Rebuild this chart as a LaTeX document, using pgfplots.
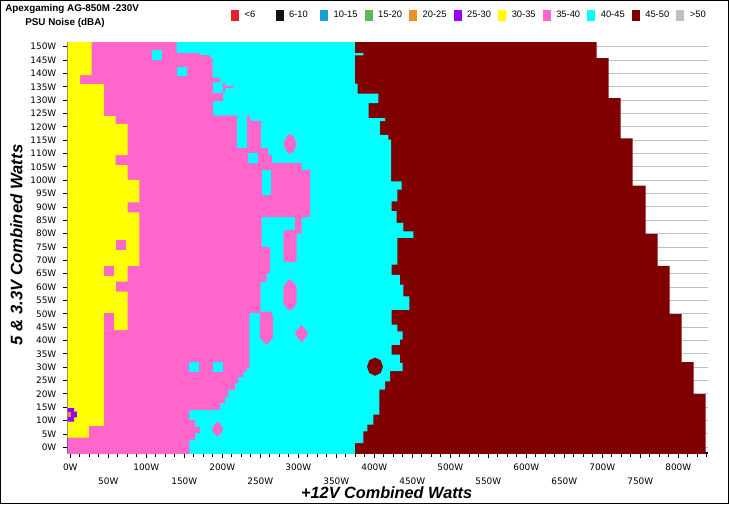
\documentclass[border=0pt]{standalone}
\usepackage{pgfplots}
\pgfplotsset{compat=1.18}
\usepackage{fontspec}
\setmainfont{Liberation Sans}
\newfontfamily\dejavu{DejaVu Sans}
\definecolor{cRed}{RGB}{230,30,40}
\definecolor{cBlack}{RGB}{20,20,20}
\definecolor{cBlue}{RGB}{25,160,215}
\definecolor{cGreen}{RGB}{90,185,90}
\definecolor{cOrange}{RGB}{235,145,40}
\definecolor{cPurple}{RGB}{150,0,255}
\definecolor{cYellow}{RGB}{255,255,0}
\definecolor{cPink}{RGB}{255,102,204}
\definecolor{cCyan}{RGB}{0,255,255}
\definecolor{cMaroon}{RGB}{128,0,0}
\definecolor{cGray}{RGB}{192,192,192}
\pgfplotsset{
  layers/gridbelow/.define layer set={axis background,axis grid,pre main,main,axis ticks,axis lines,axis tick labels,axis descriptions,axis foreground}{},
}
\newcommand{\legtxt}[1]{\hspace{4.5pt}\makebox[23.25pt][l]{#1}}
\begin{document}
\begin{tikzpicture}
\draw[line width=0.75pt] (0.375pt,0.375pt) rectangle (546.375pt,377.625pt);
\begin{axis}[
  set layers=gridbelow,
  at={(50.775pt,38.0pt)}, anchor=south west,
  scale only axis, width=480pt, height=308.475pt,
  xmin=-3.42, xmax=838.7, ymin=-2.25, ymax=151.76,
  axis x line*=bottom, axis y line*=left,
  axis line style={line width=1.3pt, black},
  xtick={0,100,...,800},
  extra x ticks={50,150,...,750},
  extra x tick style={xticklabel style={yshift=-10pt}},
  extra x tick label={\pgfmathprintnumber{\tick}W},
  minor xtick={0,12.5,...,837.5},
  ytick={0,5,...,150},
  ymajorgrids, major grid style={cGray, line width=0.75pt},
  tick align=outside, major tick length=3.5pt, minor tick length=2.5pt,
  tick style={black, line width=0.7pt},
  xticklabel={\pgfmathprintnumber{\tick}W},
  yticklabel={\pgfmathprintnumber{\tick}W},
  /pgf/number format/assume math mode=true,
  ticklabel style={font=\dejavu\fontsize{6.7}{7}\selectfont},
  xticklabel style={yshift=-1.2pt},
  yticklabel style={xshift=-1.5pt},
  xlabel={+12V Combined Watts},
  ylabel={5 \& 3.3V Combined Watts},
  xlabel style={font=\bfseries\itshape\fontsize{12.2}{13}\selectfont, at={(axis description cs:0.4984,-0.0955)}, anchor=center},
  ylabel style={font=\bfseries\itshape\fontsize{12.5}{14}\selectfont, at={(axis description cs:-0.080,0.5064)}, anchor=center, rotate=0},
  legend columns=11,
  legend image code/.code={\fill[#1] (0pt,-3.75pt) rectangle (5.25pt,3.75pt);},
  legend style={at={(axis description cs:0.2552,1.0657)}, anchor=west, draw=none, fill=none,
    inner sep=0pt, outer sep=0pt, cells={anchor=west}, nodes={inner sep=0pt},
    font=\fontsize{7}{8}\selectfont},
]
\addlegendimage{cRed}\addlegendentry{\legtxt{<6}}
\addlegendimage{cBlack}\addlegendentry{\legtxt{6-10}}
\addlegendimage{cBlue}\addlegendentry{\legtxt{10-15}}
\addlegendimage{cGreen}\addlegendentry{\legtxt{15-20}}
\addlegendimage{cOrange}\addlegendentry{\legtxt{20-25}}
\addlegendimage{cPurple}\addlegendentry{\legtxt{25-30}}
\addlegendimage{cYellow}\addlegendentry{\legtxt{30-35}}
\addlegendimage{cPink}\addlegendentry{\legtxt{35-40}}
\addlegendimage{cCyan}\addlegendentry{\legtxt{40-45}}
\addlegendimage{cMaroon}\addlegendentry{\legtxt{45-50}}
\addlegendimage{cGray}\addlegendentry{\legtxt{>50}}
% 45-50 region with stepped right edge
\addplot[fill=cMaroon, draw=none, forget plot] coordinates {
(-10,-5) (836.1,-5) (836.1,19.9) (820.3,19.9) (820.3,31.9) (804.5,31.9) (804.5,49.9) (788.7,49.9)
(788.7,67.9) (772.9,67.9) (772.9,79.9) (757.1,79.9) (757.1,98) (740,98) (740,115.7) (724.2,115.7)
(724.2,130.8) (708.4,130.8) (708.4,145.7) (692.6,145.7) (692.6,155) (-10,155)};
% 40-45 region
\addplot[fill=cCyan, draw=none, forget plot] coordinates {
(-10,-5) (374.6,-5) (374.6,1.6) (385.5,1.6) (385.5,6.0) (390.8,6.0) (390.8,8.5) (398.7,8.5)
(398.7,12.2) (406.6,12.2) (406.6,21.6) (414.1,21.6) (414.1,24.7) (420.7,24.7) (420.7,28.5)
(437.4,28.5) (437.4,31.6) (433.8,31.6) (433.8,34.7) (422.9,34.7) (422.9,38.4) (433.8,38.4)
(433.8,40.3) (437.4,40.3) (437.4,43.4) (430.3,43.4) (430.3,45.9) (422.9,45.9) (422.9,51.5)
(446.1,51.5) (446.1,56.5) (438.2,56.5) (438.2,60.9) (433.8,60.9) (433.8,64.6) (422.9,64.6)
(422.9,68.4) (430.3,68.4) (430.3,78.4) (451.3,78.4) (451.3,80.9) (438.2,80.9) (438.2,84.0)
(429.5,84.0) (429.5,88.4) (422.9,88.4) (422.9,92.1) (430.3,92.1) (430.3,96.5) (436.1,96.5)
(436.1,99.6) (422.0,99.6) (422.0,115.2) (418.4,115.2) (418.4,117.0) (407.5,117.0) (407.5,122.1)
(414.1,122.1) (414.1,123.3) (392.6,123.3) (392.6,128.9) (405.3,128.9) (405.3,132.4) (378.2,132.4)
(378.2,136.2) (374.6,136.2) (374.6,146.8) (385.5,146.8) (385.5,147.6) (374.6,147.6) (374.6,155) (-10,155)};
% 45-50 island
\addplot[fill=cMaroon, draw=none, forget plot] coordinates {
(390.4,30.2) (393.5,27.8) (400.9,26.8) (408.3,27.8) (411.4,30.2) (408.3,32.6) (400.9,33.6) (393.5,32.6)};
% 35-40 region
\addplot[fill=cPink, draw=none, forget plot] coordinates {
(-10,-5) (156.6,-5) (156.6,2.7) (164.1,2.7) (164.1,5.4) (170.7,5.4) (170.7,7.7) (164.1,7.7)
(164.1,10.2) (156.6,10.2) (156.6,14.0) (197.0,14.0) (197.0,16.5) (203.6,16.5) (203.6,18.9)
(207.9,18.9) (207.9,21.5) (216.7,21.5) (216.7,24.0) (221.1,24.0) (221.1,26.4) (227.6,26.4)
(227.6,28.3) (232.1,28.3) (232.1,29.7) (235.5,29.7) (235.5,50.3) (250.5,50.3) (250.5,62.0)
(258.4,62.0) (258.4,65.2) (262.8,65.2) (262.8,75.1) (251.8,75.1) (251.8,86.2) (315.4,86.2)
(315.4,103.8) (304.5,103.8) (304.5,106.5) (265.4,106.5) (265.4,109.5) (260.1,109.5) (260.1,112.1)
(250.9,112.1) (250.9,122.2) (236.4,122.2) (236.4,124.3) (187.8,124.3) (187.8,129.7) (200.9,129.7)
(200.9,132.7) (203.6,132.7) (203.6,134.5) (214.1,134.5) (214.1,135.3) (203.6,135.3) (203.6,136.4)
(197.0,136.4) (197.0,138.3) (187.4,138.3) (187.4,145.8) (183.8,145.8) (183.8,146.9) (170.7,146.9)
(170.7,147.6) (140.0,147.6) (140.0,155) (-10,155)};
% 40-45 islands inside 35-40
\addplot[fill=cCyan, draw=none, forget plot] coordinates {(107.1,145.1) (120.3,145.1) (120.3,148.8) (107.1,148.8)};
\addplot[fill=cCyan, draw=none, forget plot] coordinates {(140.0,138.9) (153.2,138.9) (153.2,142.3) (140.0,142.3)};
\addplot[fill=cCyan, draw=none, forget plot] coordinates {(187.8,132.6) (200.5,132.6) (200.5,136.8) (187.8,136.8)};
\addplot[fill=cCyan, draw=none, forget plot] coordinates {(218.9,112.1) (232.1,112.1) (232.1,124.5) (218.9,124.5)};
\addplot[fill=cCyan, draw=none, forget plot] coordinates {(233.8,106.5) (247.0,106.5) (247.0,110.2) (233.8,110.2)};
\addplot[fill=cCyan, draw=none, forget plot] coordinates {(251.8,94.5) (263.7,94.5) (263.7,103.8) (251.8,103.8)};
\addplot[fill=cCyan, draw=none, forget plot] coordinates {(156.6,28.3) (169.7,28.3) (169.7,31.8) (156.6,31.8)};
\addplot[fill=cCyan, draw=none, forget plot] coordinates {(187.4,28.3) (200.5,28.3) (200.5,31.8) (187.4,31.8)};
% 35-40 islands inside 40-45
\addplot[fill=cPink, draw=none, forget plot] coordinates {
(280.3,113.6) (285,116.5) (289.1,117.3) (293.5,116.5) (297.9,113.6) (293.5,110.7) (289.1,109.8) (285,110.7)};
\addplot[fill=cPink, draw=none, forget plot] coordinates {
(281.5,69.4) (296.5,69.4) (297.9,71) (297.9,80) (304.5,80) (304.5,86.5) (295.7,86.5) (295.7,81.3) (282,81.3) (280.3,79.5) (280.3,71)};
\addplot[fill=cPink, draw=none, forget plot] coordinates {
(280.3,54) (280.3,60) (285,62) (289,63) (293,62) (297.9,60) (297.9,54) (293,52) (289,51.2) (285,52)};
\addplot[fill=cPink, draw=none, forget plot] coordinates {
(249.6,41) (249.6,50) (252,50.8) (264,50.8) (266.7,49) (266.7,41) (260,39) (258,38.4) (256,39)};
\addplot[fill=cPink, draw=none, forget plot] coordinates {
(295.6,42.6) (300,44.5) (304.2,45.8) (308.4,44.5) (312.8,42.6) (308.4,40.7) (304.2,39.4) (300,40.7)};
\addplot[fill=cPink, draw=none, forget plot] coordinates {
(186.1,6.8) (190,8.6) (193.7,9.6) (197.4,8.6) (201.3,6.8) (197.4,5) (193.7,4) (190,5)};
% 30-35 region
\addplot[fill=cYellow, draw=none, forget plot] coordinates {
(-10,3.6) (24.6,3.6) (24.6,8.0) (44.3,8.0) (44.3,43.9) (75.5,43.9) (75.5,58.3) (60.1,58.3)
(60.1,62.0) (75.5,62.0) (75.5,67.9) (90.8,67.9) (90.8,88.0) (75.5,88.0) (75.5,91.7) (90.8,91.7)
(90.8,100.1) (75.5,100.1) (75.5,105.7) (59.7,105.7) (59.7,109.4) (75.5,109.4) (75.5,121.1)
(59.7,121.1) (59.7,124.0) (44.3,124.0) (44.3,136.0) (12.8,136.0) (12.8,139.4) (28.2,139.4)
(28.2,155) (-10,155)};
% 35-40 islands inside 30-35
\addplot[fill=cPink, draw=none, forget plot] coordinates {(60.1,73.9) (73.3,73.9) (73.3,77.6) (60.1,77.6)};
\addplot[fill=cPink, draw=none, forget plot] coordinates {(44.3,64.0) (57.5,64.0) (57.5,67.9) (44.3,67.9)};
\addplot[fill=cPink, draw=none, forget plot] coordinates {(44.3,43.9) (57.5,43.9) (57.5,50.2) (44.3,50.2)};
% 25-30 and 20-25 spot
\addplot[fill=cPurple, draw=none, forget plot] coordinates {
(-5,9.6) (5,9.6) (5,11.2) (8.8,11.2) (8.8,13.4) (5,13.4) (5,14.7) (-5,14.7)};
\addplot[fill=cOrange, draw=none, forget plot] coordinates {(-5,11.2) (0.9,11.2) (0.9,13.3) (-5,13.3)};
\end{axis}
\node[anchor=west, inner sep=0pt, font=\bfseries\fontsize{7.4}{9}\selectfont] at (3.75pt,371.2pt) {Apexgaming AG-850M -230V};
\node[anchor=west, inner sep=0pt, font=\bfseries\fontsize{7.4}{9}\selectfont] at (18.75pt,360.7pt) {PSU Noise (dBA)};
\end{tikzpicture}
\end{document}
